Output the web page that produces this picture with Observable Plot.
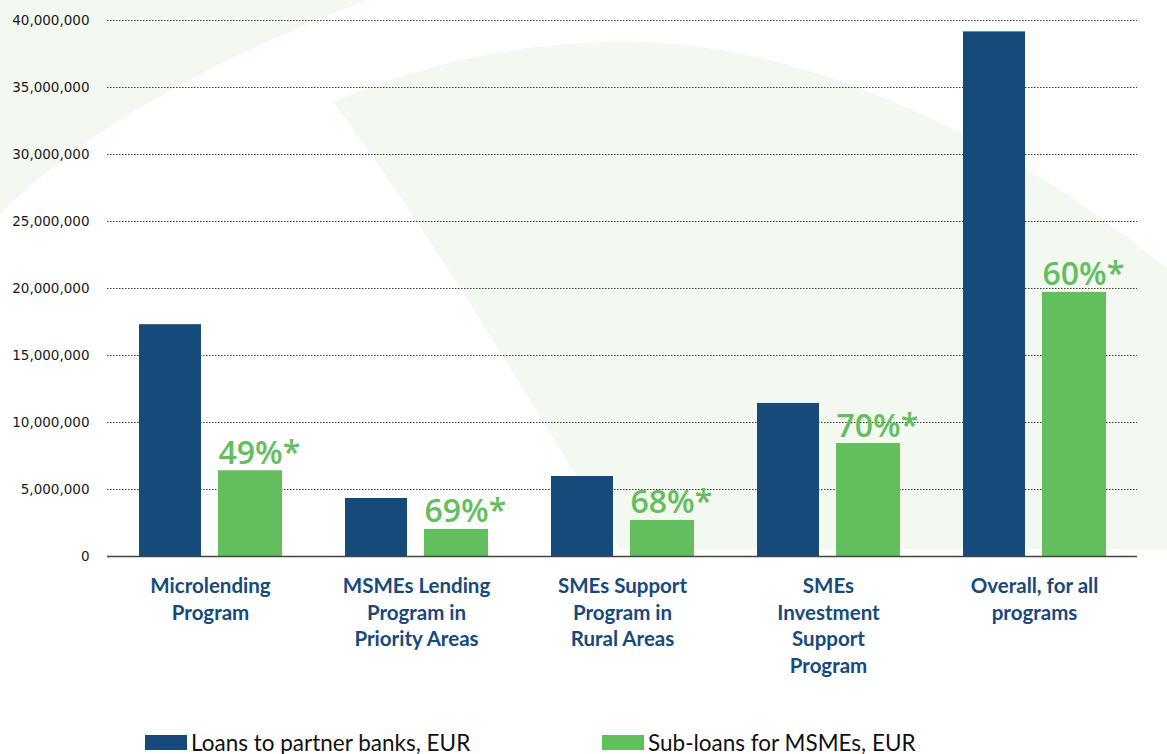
<!DOCTYPE html>
<html><head><meta charset="utf-8">
<script src="https://cdn.jsdelivr.net/npm/d3@7"></script>
<script src="https://cdn.jsdelivr.net/npm/@observablehq/plot@0.6"></script>
<style>
body{margin:0;background:#fff;}
#wrap{position:relative;width:1167px;height:754px;overflow:hidden;background:#fff;}
#bg{position:absolute;left:0;top:0;}
#chart{position:absolute;left:0;top:0;}
.item{position:absolute;top:730px;height:24px;display:flex;align-items:center;white-space:nowrap;font-family:Lato, sans-serif;font-size:22.5px;color:#111;}
.sw{display:inline-block;width:42px;height:15px;margin-right:4px;}
</style></head>
<body><div id="wrap"><svg id="bg" width="1167" height="754"></svg><div id="chart"></div></div>
<script>
const categories = [
  "Microlending\nProgram",
  "MSMEs Lending\nProgram in\nPriority Areas",
  "SMEs Support\nProgram in\nRural Areas",
  "SMEs\nInvestment\nSupport\nProgram",
  "Overall, for all\nprograms"
];
const loans = [17300000, 4330000, 5970000, 11420000, 39150000];
const subLoans = [6400000, 2020000, 2690000, 8430000, 19710000];
const shares = ["49%*", "69%*", "68%*", "70%*", "60%*"];
const yTicks = [0, 5000000, 10000000, 15000000, 20000000, 25000000, 30000000, 35000000, 40000000];
const seriesNames = ["Loans to partner banks, EUR", "Sub-loans for MSMEs, EUR"];
const seriesColors = ["#164a7b", "#63be5e"];

const rows = categories.map((c, i) => ({category: c, loans: loans[i], sub: subLoans[i], share: shares[i]}));

// decorative background shapes (not data)
const bg = d3.select("#bg").append("g").attr("fill", "#f3f8f0");
bg.append("path").attr("d", "M0,0 L367,0 C250,45 90,120 0,215 Z");
bg.append("path").attr("d", "M333,102 C450,52 560,40 640,42 C800,46 1000,130 1167,269 L1167,549 L620,549 Q430,230 333,102 Z");

const chart = Plot.plot({
  width: 1167, height: 720,
  marginLeft: 107, marginRight: 30, marginTop: 20, marginBottom: 164,
  style: {background: "transparent", fontFamily: "DejaVu Sans", fontSize: "13.5px", color: "#1a1a1a"},
  x: {domain: categories, padding: 0, axis: null},
  y: {domain: [0, 40000000], ticks: yTicks, tickFormat: d3.format(","), tickSize: 0, tickPadding: 18, label: null},
  marks: [
    Plot.ruleY(yTicks.filter(d => d > 0), {stroke: "#222", strokeOpacity: 0.9, strokeDasharray: "1.5,1.5"}),
    Plot.barY(rows, {x: "category", y: "loans", fill: seriesColors[0], insetLeft: 32, insetRight: 112}),
    Plot.barY(rows, {x: "category", y: "sub", fill: seriesColors[1], insetLeft: 111, insetRight: 31}),
    Plot.ruleY([0], {stroke: "#444", strokeWidth: 1.3}),
    Plot.text(rows, {x: "category", y: "sub", text: "share", textAnchor: "start", dx: 8, dy: -7, lineAnchor: "bottom",
      fill: seriesColors[1], fontSize: 32, fontFamily: "Open Sans", fontWeight: 600}),
    Plot.text(rows, {x: "category", text: "category", frameAnchor: "bottom", lineAnchor: "top", dy: 18, lineHeight: 1.295,
      fill: "#174a7c", fontSize: 20.5, fontWeight: "bold", fontFamily: "Lato"})
  ]
});
document.getElementById("chart").appendChild(chart);

const wrap = document.getElementById("wrap");
const legendX = [145, 602];
seriesNames.forEach((name, i) => {
  const item = document.createElement("div");
  item.className = "item";
  item.style.left = legendX[i] + "px";
  const sw = document.createElement("span");
  sw.className = "sw";
  sw.style.background = seriesColors[i];
  item.appendChild(sw);
  item.appendChild(document.createTextNode(name));
  wrap.appendChild(item);
});
</script>
</body></html>
